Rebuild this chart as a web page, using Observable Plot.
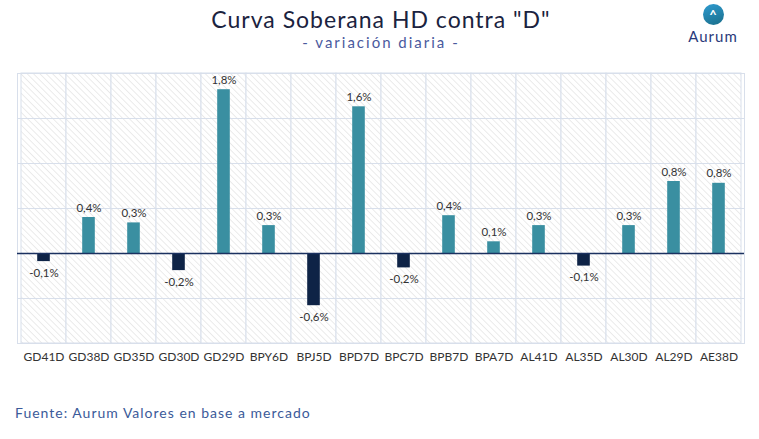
<!DOCTYPE html>
<html>
<head>
<meta charset="utf-8">
<script src="https://cdn.jsdelivr.net/npm/d3@7"></script>
<script src="https://cdn.jsdelivr.net/npm/@observablehq/plot@0.6"></script>
<style>
  html, body { margin: 0; padding: 0; background: #fff; }
  #wrap { position: relative; width: 759px; height: 439px; overflow: hidden; font-family: "Lato", "Noto Sans", sans-serif; }
  #title { position: absolute; top: 5px; left: 0; width: 762px; text-align: center; font-size: 23px; color: #1b2340; letter-spacing: 1px; }
  #subtitle { position: absolute; top: 33px; left: 0; width: 762px; text-align: center; font-size: 15px; color: #4a5a9e; letter-spacing: 2px; }
  #caption { position: absolute; top: 404px; left: 15px; font-size: 14px; color: #3b5a99; letter-spacing: 1px; }
  #logo { position: absolute; top: 4px; left: 683px; width: 60px; text-align: center; }
  #logo .circ { width: 21px; height: 21px; border-radius: 50%; margin: 0 auto; background: linear-gradient(160deg, #2f9bd0, #1a6e8a); position: relative; }
  #logo .circ span { position: absolute; left: 0; top: 2px; width: 21px; text-align: center; color: #fff; font-size: 13px; font-weight: bold; line-height: 18px; }
  #logo .name { font-size: 15px; color: #2a3a7a; margin-top: 2px; letter-spacing: 1px; }
  #chart { position: absolute; top: 60px; left: 0; }
</style>
</head>
<body>
<div id="wrap">
  <div id="title">Curva Soberana HD contra "D"</div>
  <div id="subtitle">- variación diaria -</div>
  <div id="logo"><div class="circ"><span>^</span></div><div class="name">Aurum</div></div>
  <div id="chart"></div>
  <div id="caption">Fuente: Aurum Valores en base a mercado</div>
</div>
<script>
const bonds = ["GD41D","GD38D","GD35D","GD30D","GD29D","BPY6D","BPJ5D","BPD7D","BPC7D","BPB7D","BPA7D","AL41D","AL35D","AL30D","AL29D","AE38D"];
const changes = [-0.09, 0.40, 0.34, -0.19, 1.82, 0.31, -0.58, 1.63, -0.16, 0.42, 0.13, 0.31, -0.14, 0.31, 0.80, 0.78];
const labels = ["-0,1%","0,4%","0,3%","-0,2%","1,8%","0,3%","-0,6%","1,6%","-0,2%","0,4%","0,1%","0,3%","-0,1%","0,3%","0,8%","0,8%"];
const gridY = [-1, -0.5, 0.5, 1, 1.5, 2];

const data = bonds.map((b, i) => ({bond: b, value: changes[i], label: labels[i]}));
const gridColor = "#d8dfeb";

const chart = Plot.plot({
  width: 759,
  height: 310,
  marginTop: 13,
  marginBottom: 27,
  marginLeft: 17,
  marginRight: 15,
  style: {fontFamily: "Lato, 'Noto Sans', sans-serif", fontSize: "12px", color: "#333"},
  x: {domain: bonds, padding: 0, label: null, tickSize: 0, tickPadding: 9},
  y: {domain: [-1, 2], axis: null},
  marks: [
    Plot.barY(bonds, {x: d => d, y1: -1, y2: 2, fill: "url(#hatch)", stroke: gridColor, strokeWidth: 1}),
    Plot.ruleY(gridY, {stroke: gridColor, strokeWidth: 1}),
    Plot.frame({stroke: gridColor}),
    Plot.barY(data, {x: "bond", y: "value", fill: d => d.value >= 0 ? "#3a8fa1" : "#0e2346", insetLeft: 16.2, insetRight: 16.2}),
    Plot.ruleY([0], {stroke: "#1b3160", strokeWidth: 1.3}),
    Plot.text(data, {x: "bond", y: "value", text: "label", lineAnchor: "bottom", fill: "#333", fontSize: 11.5,
      filter: d => d.value >= 0, dy: -6}),
    Plot.text(data, {x: "bond", y: "value", text: "label", lineAnchor: "top", fill: "#333", fontSize: 11.5,
      filter: d => d.value < 0, dy: 7})
  ]
});

// hatch pattern definition
const ns = "http://www.w3.org/2000/svg";
const defs = document.createElementNS(ns, "defs");
defs.innerHTML = `<pattern id="hatch" patternUnits="userSpaceOnUse" width="4.5" height="4.5" patternTransform="rotate(-45)">
  <rect width="4.5" height="4.5" fill="#ffffff"/>
  <line x1="0" y1="0" x2="0" y2="4.5" stroke="#dedede" stroke-width="1.2"/>
</pattern>`;
chart.insertBefore(defs, chart.firstChild);
document.getElementById("chart").appendChild(chart);
</script>
</body>
</html>
